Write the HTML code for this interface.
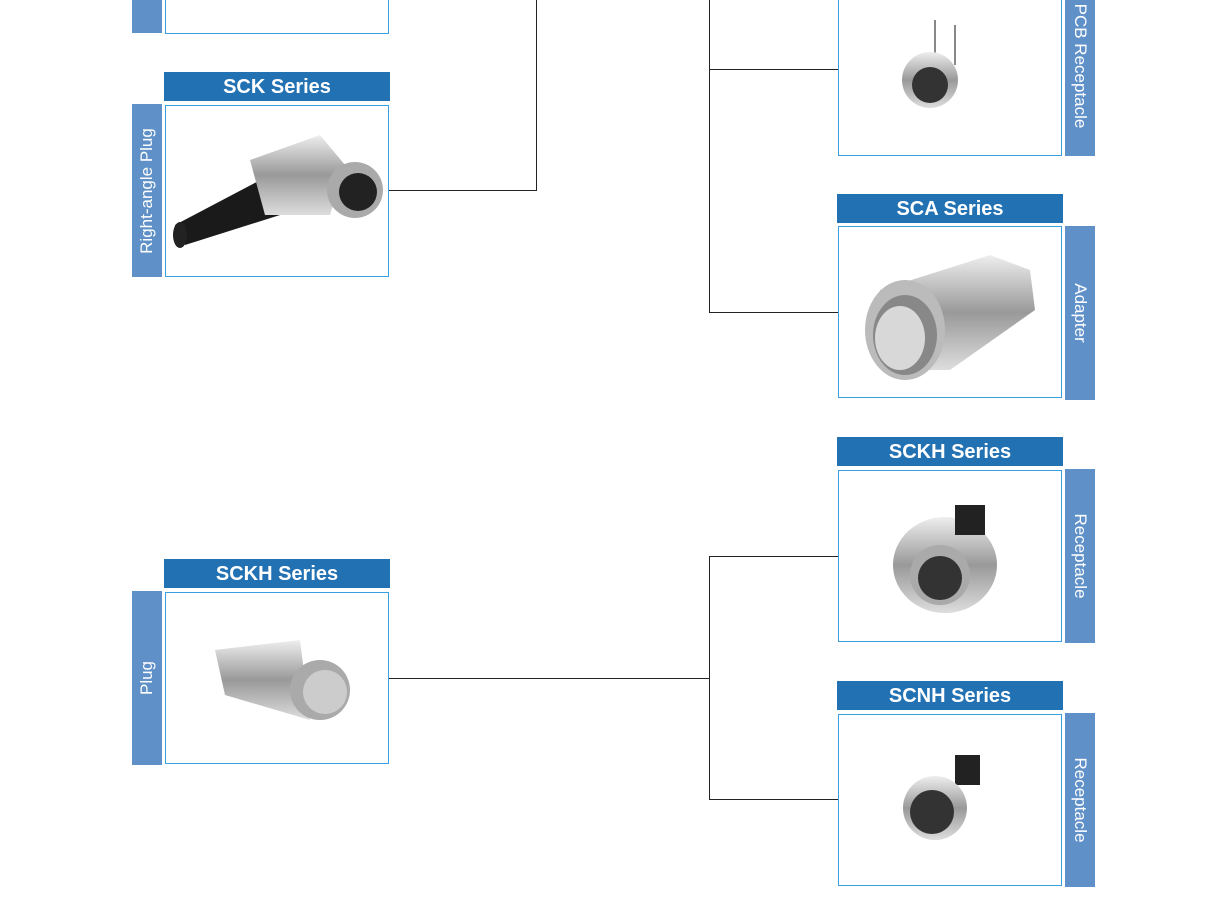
<!DOCTYPE html>
<html><head><meta charset="utf-8"><style>
body{margin:0;width:1214px;height:909px;background:#fff;position:relative;overflow:hidden;font-family:"Liberation Sans",sans-serif}
.h{position:absolute;width:226px;height:29px;background:#2271b3;color:#fff;font-weight:bold;font-size:20px;text-align:center;line-height:31px}
.b{position:absolute;width:222px;height:170px;border:1px solid #3a9fe0;background:#fff}
.s{position:absolute;width:30px;background:#5f90c8;color:#fff;font-size:17px}
.s span{position:absolute;left:50%;top:50%;white-space:nowrap}
.l .s span{transform:translate(-50%,-50%) rotate(-90deg)}
.r span{transform:translate(-50%,-50%) rotate(90deg)}
.ln{position:absolute;background:#222}
svg{position:absolute;left:0;top:0}
</style></head><body>
<div class="ln" style="left:389px;top:190px;width:148px;height:1px"></div>
<div class="ln" style="left:536px;top:0;width:1px;height:191px"></div>
<div class="ln" style="left:709px;top:0;width:1px;height:313px"></div>
<div class="ln" style="left:709px;top:69px;width:129px;height:1px"></div>
<div class="ln" style="left:709px;top:312px;width:129px;height:1px"></div>
<div class="ln" style="left:389px;top:678px;width:321px;height:1px"></div>
<div class="ln" style="left:709px;top:556px;width:1px;height:244px"></div>
<div class="ln" style="left:709px;top:556px;width:129px;height:1px"></div>
<div class="ln" style="left:709px;top:799px;width:129px;height:1px"></div>

<div class="l">
<div class="s" style="left:132px;top:0;height:33px"></div>
<div class="b" style="left:165px;top:-140px;height:172px"></div>
<div class="h" style="left:164px;top:72px">SCK Series</div>
<div class="s" style="left:132px;top:104px;height:173px"><span>Right-angle Plug</span></div>
<div class="b" style="left:165px;top:105px"></div>
<div class="h" style="left:164px;top:559px">SCKH Series</div>
<div class="s" style="left:132px;top:591px;height:174px"><span>Plug</span></div>
<div class="b" style="left:165px;top:592px"></div>
</div>

<div class="b" style="left:838px;top:-16px"></div>
<div class="s r" style="left:1065px;top:0;height:156px"><span style="top:66px">PCB Receptacle</span></div>
<div class="h" style="left:837px;top:194px">SCA Series</div>
<div class="b" style="left:838px;top:226px"></div>
<div class="s r" style="left:1065px;top:226px;height:174px"><span>Adapter</span></div>
<div class="h" style="left:837px;top:437px">SCKH Series</div>
<div class="b" style="left:838px;top:470px"></div>
<div class="s r" style="left:1065px;top:469px;height:174px"><span>Receptacle</span></div>
<div class="h" style="left:837px;top:681px">SCNH Series</div>
<div class="b" style="left:838px;top:714px"></div>
<div class="s r" style="left:1065px;top:713px;height:174px"><span>Receptacle</span></div>

<svg width="1214" height="909">
<defs><linearGradient id="m" x1="0" y1="0" x2="0" y2="1"><stop offset="0" stop-color="#eee"/><stop offset=".5" stop-color="#999"/><stop offset="1" stop-color="#ddd"/></linearGradient></defs>
<polygon points="175,225 270,175 280,215 185,245" fill="#1a1a1a"/>
<ellipse cx="180" cy="235" rx="7" ry="13" fill="#222"/>
<polygon points="250,160 320,135 345,165 330,215 265,215" fill="url(#m)"/>
<circle cx="355" cy="190" r="28" fill="#aaa"/>
<circle cx="358" cy="192" r="19" fill="#222"/>
<line x1="935" y1="20" x2="935" y2="60" stroke="#888" stroke-width="2"/>
<line x1="955" y1="25" x2="955" y2="65" stroke="#888" stroke-width="2"/>
<circle cx="930" cy="80" r="28" fill="url(#m)"/>
<circle cx="930" cy="85" r="18" fill="#333"/>
<polygon points="880,290 990,255 1030,270 1035,310 950,370 890,370" fill="url(#m)"/>
<ellipse cx="905" cy="330" rx="40" ry="50" fill="#bbb"/>
<ellipse cx="905" cy="335" rx="32" ry="40" fill="#888"/>
<ellipse cx="900" cy="338" rx="25" ry="32" fill="#d8d8d8"/>
<ellipse cx="945" cy="565" rx="52" ry="48" fill="url(#m)"/>
<rect x="955" y="505" width="30" height="30" fill="#222"/>
<circle cx="940" cy="575" r="30" fill="#aaa"/>
<circle cx="940" cy="578" r="22" fill="#333"/>
<rect x="955" y="755" width="25" height="30" fill="#222"/>
<circle cx="935" cy="808" r="32" fill="url(#m)"/>
<circle cx="932" cy="812" r="22" fill="#333"/>
<polygon points="215,650 300,640 310,720 225,695" fill="url(#m)"/>
<circle cx="320" cy="690" r="30" fill="#aaa"/>
<circle cx="325" cy="692" r="22" fill="#ccc"/>
</svg>
</body></html>
